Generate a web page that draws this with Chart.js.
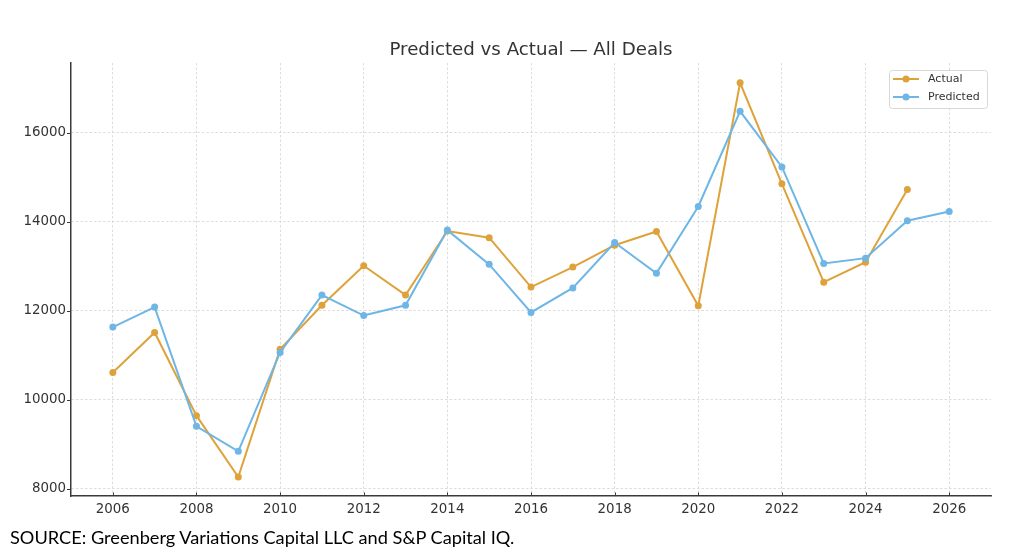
<!DOCTYPE html>
<html>
<head>
<meta charset="utf-8">
<script src="https://cdn.jsdelivr.net/npm/chart.js@4.4.0/dist/chart.umd.min.js"></script>
<style>
  html, body { margin: 0; padding: 0; background: #fff; }
  #wrap { position: relative; width: 1024px; height: 559px; }
  #source {
    position: absolute; left: 10px; top: 526px;
    font-family: Lato, "Liberation Sans", sans-serif; font-size: 19px;
    color: #000; white-space: nowrap;
  }
</style>
</head>
<body>
<div id="wrap">
  <canvas id="chart" width="1024" height="559"></canvas>
  <div id="source">SOURCE: Greenberg Variations Capital LLC and S&amp;P Capital IQ.</div>
</div>
<script>
// data
const years = [2006, 2007, 2008, 2009, 2010, 2011, 2012, 2013, 2014, 2015, 2016,
               2017, 2018, 2019, 2020, 2021, 2022, 2023, 2024, 2025, 2026];
const actual = [10610, 11510, 9640, 8260, 11130, 12120, 13010, 12350, 13790, 13640, 12530,
                12980, 13470, 13780, 12110, 17120, 14850, 12640, 13090, 14720];
const predicted = [11630, 12080, 9400, 8840, 11060, 12350, 11890, 12120, 13810, 13040, 11960,
                   12510, 13530, 12840, 14340, 16480, 15230, 13060, 13180, 14020, 14230];
const xTicks = [2006, 2008, 2010, 2012, 2014, 2016, 2018, 2020, 2022, 2024, 2026];
const yTicks = [8000, 10000, 12000, 14000, 16000];

const titleText = 'Predicted vs Actual — All Deals';
const orange = '#DFA23B';
const blue = '#6DB6E6';
const axisColor = '#3a3a3a';
const gridColor = '#d4d4d4';
const font = 'DejaVu Sans';

const toPoints = (vals) => vals.map((v, i) => ({ x: years[i], y: v }));

// title, little tick marks and the boxed legend in one plugin
const decorPlugin = {
  id: 'decor',
  afterDraw(chart) {
    const { ctx, chartArea, scales } = chart;
    ctx.save();

    ctx.fillStyle = '#333';
    ctx.font = `18.2px "${font}"`;
    ctx.textAlign = 'center';
    ctx.textBaseline = 'middle';
    ctx.fillText(titleText, (chartArea.left + chartArea.right) / 2, 50);

    ctx.strokeStyle = axisColor;
    ctx.lineWidth = 1;
    yTicks.forEach(v => {
      const y = Math.round(scales.y.getPixelForValue(v)) + 0.5;
      ctx.beginPath(); ctx.moveTo(chartArea.left - 4, y); ctx.lineTo(chartArea.left, y); ctx.stroke();
    });
    xTicks.forEach(v => {
      const x = Math.round(scales.x.getPixelForValue(v)) + 0.5;
      ctx.beginPath(); ctx.moveTo(x, chartArea.bottom); ctx.lineTo(x, chartArea.bottom - 3.5); ctx.stroke();
    });

    // legend box
    const bx = 889, by = 70, bw = 98, bh = 38;
    ctx.beginPath();
    ctx.roundRect(bx + 0.5, by + 0.5, bw, bh, 3);
    ctx.fillStyle = 'rgba(255,255,255,0.85)';
    ctx.fill();
    ctx.strokeStyle = '#d8d8d8';
    ctx.stroke();

    const items = [{ label: 'Actual', color: orange }, { label: 'Predicted', color: blue }];
    items.forEach((it, i) => {
      const y = by + 9 + i * 18;
      ctx.strokeStyle = it.color;
      ctx.lineWidth = 2;
      ctx.beginPath(); ctx.moveTo(893, y); ctx.lineTo(919, y); ctx.stroke();
      ctx.fillStyle = it.color;
      ctx.beginPath(); ctx.arc(906, y, 3.5, 0, Math.PI * 2); ctx.fill();
      ctx.fillStyle = '#333';
      ctx.font = `11px "${font}"`;
      ctx.textAlign = 'left';
      ctx.fillText(it.label, 928, y + 0.5);
    });
    ctx.restore();
  }
};

const lineSet = (label, vals, color, order) => ({
  label: label,
  data: toPoints(vals),
  borderColor: color,
  backgroundColor: color,
  borderWidth: 2,
  pointRadius: 3.5,
  pointBorderWidth: 0,
  pointHoverRadius: 3.5,
  tension: 0,
  order: order
});

new Chart(document.getElementById('chart'), {
  type: 'line',
  data: {
    datasets: [
      lineSet('Actual', actual, orange, 2),
      lineSet('Predicted', predicted, blue, 1)
    ]
  },
  options: {
    responsive: false,
    animation: false,
    layout: { padding: { top: 63, right: 33, left: 0, bottom: 0 } },
    plugins: {
      legend: { display: false },
      title: { display: false },
      tooltip: { enabled: false }
    },
    scales: {
      x: {
        type: 'linear',
        min: 2005,
        max: 2027,
        afterBuildTicks: (s) => { s.ticks = xTicks.map(v => ({ value: v })); },
        afterFit: (s) => { s.height = 63; },
        grid: { color: gridColor, lineWidth: 0.8, drawTicks: false },
        border: { display: true, color: axisColor, width: 1.5, dash: [2.5, 2] },
        ticks: {
          color: '#333',
          padding: 5,
          font: { family: font, size: 13.4 },
          maxRotation: 0,
          callback: (v) => String(v)
        }
      },
      y: {
        type: 'linear',
        min: 7835,
        max: 17565,
        afterBuildTicks: (s) => { s.ticks = yTicks.map(v => ({ value: v })); },
        afterFit: (s) => { s.width = 71; },
        grid: { color: gridColor, lineWidth: 0.8, drawTicks: false },
        border: { display: true, color: axisColor, width: 1.5, dash: [2.5, 2] },
        ticks: {
          color: '#333',
          padding: 5,
          font: { family: font, size: 13.4 },
          callback: (v) => String(v)
        }
      }
    }
  },
  plugins: [decorPlugin]
});

// stretch the source line to the width it has in the picture
const src = document.getElementById('source');
const fitWidth = 505;
src.style.fontSize = (19 * fitWidth / src.offsetWidth).toFixed(2) + 'px';
</script>
</body>
</html>
